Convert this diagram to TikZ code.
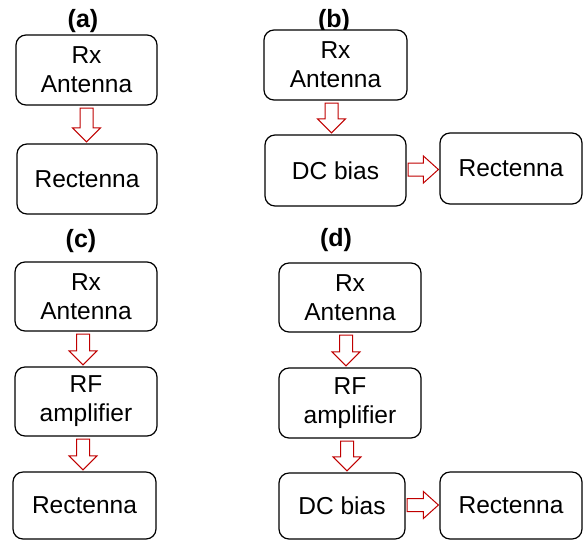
\documentclass[tikz,border=0pt]{standalone}
\usepackage{fontspec}
\setmainfont{Liberation Sans}
\usetikzlibrary{calc}
\definecolor{arrred}{HTML}{C00000}
\tikzset{
  box/.style={draw=black, line width=1.2pt, rounded corners=10pt, fill=white,
    align=center, inner sep=0pt, font=\fontsize{24.5}{29}\selectfont},
  lab/.style={font=\bfseries\fontsize{25}{28}\selectfont, inner sep=0pt, anchor=base},
  barrow/.style={draw=arrred, line width=1pt, fill=white, line join=miter},
}
\newcommand\mybox[6]{\node[box, minimum width={(#4-#2)*1pt}, minimum height={(#5-#3)*1pt}] (#1) at ({(#2+#4)/2},{-(#3+#5)/2-1}) {#6};}
\newcommand\varrow[3]{\draw[barrow] let \p1=($(#1.south)+(#3,-2.5)$), \p2=($(#2.north)+(#3,1.5)$) in
  (\x1-6.5pt,\y1) -- (\x1+6.5pt,\y1) -- (\x1+6.5pt,\y2+14pt) -- (\x1+14pt,\y2+14pt) -- (\x1,\y2)
  -- (\x1-14pt,\y2+14pt) -- (\x1-6.5pt,\y2+14pt) -- cycle;}
\newcommand\harrow[3]{\draw[barrow] let \p1=($(#1.east)+(1.5,#3)$), \p2=($(#2.west)+(-1,#3)$) in
  (\x1,\y1-6.5pt) -- (\x2-15pt,\y1-6.5pt) -- (\x2-15pt,\y1-13.5pt) -- (\x2,\y1)
  -- (\x2-15pt,\y1+13.5pt) -- (\x2-15pt,\y1+6.5pt) -- (\x1,\y1+6.5pt) -- cycle;}
\begin{document}
\begin{tikzpicture}[x=1pt,y=1pt]
\useasboundingbox (0,0) rectangle (586,-542);
% (a)
\node[lab] (la) at (83,-27) {(a)};
\mybox{a1}{16}{34}{157}{104}{Rx\\Antenna}
\mybox{a2}{17}{143}{157}{213}{Rectenna}
\varrow{a1}{a2}{0}
% (b)
\node[lab] (lb) at (334,-27) {(b)};
\mybox{b1}{264}{29}{407}{99}{Rx\\Antenna}
\mybox{b2}{265}{134}{406}{205}{DC bias}
\mybox{b3}{440}{132}{582}{203}{Rectenna}
\varrow{b1}{b2}{-4}
\harrow{b2}{b3}{1}
% (c)
\node[lab] (lc) at (81,-247) {(c)};
\mybox{c1}{15}{261}{157}{330}{Rx\\Antenna}
\mybox{c2}{15}{366}{157}{435}{RF\\amplifier}
\mybox{c3}{13}{471}{156}{538}{Rectenna}
\varrow{c1}{c2}{-3}
\varrow{c2}{c3}{-3}
% (d)
\node[lab] (ld) at (336,-246) {(d)};
\mybox{d1}{279}{262}{421}{331}{Rx\\Antenna}
\mybox{d2}{279}{367}{421}{437}{RF\\amplifier}
\mybox{d3}{279}{472}{405}{538}{DC bias}
\mybox{d4}{440}{471}{582}{538}{Rectenna}
\varrow{d1}{d2}{-4}
\varrow{d2}{d3}{-3}
\harrow{d3}{d4}{1}
\end{tikzpicture}
\end{document}
